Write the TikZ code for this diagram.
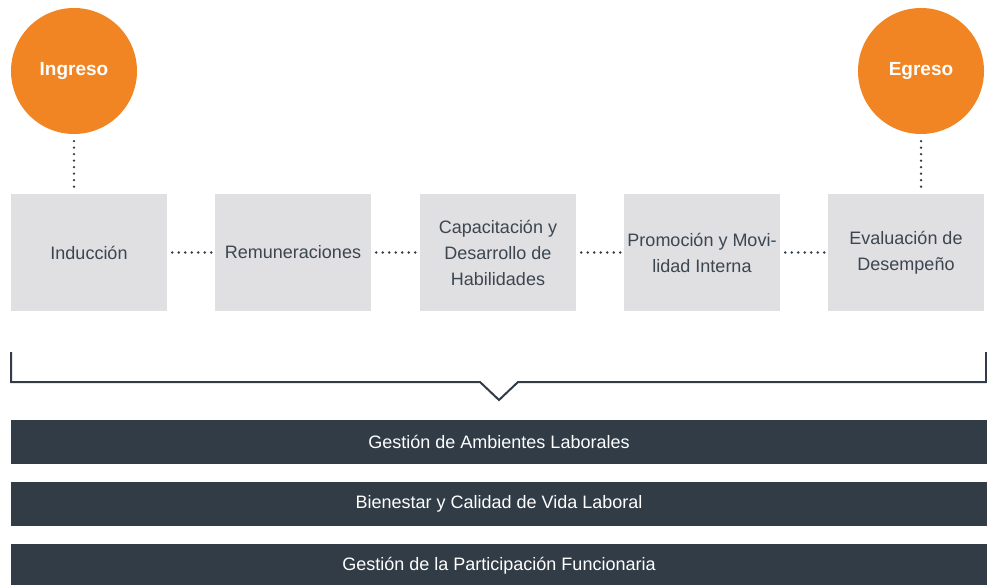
\documentclass[tikz,border=0pt]{standalone}
\usepackage{fontspec}
\setmainfont{Liberation Sans}
\usetikzlibrary{positioning}

\definecolor{naranja}{HTML}{F28523}
\definecolor{grisclaro}{HTML}{E0DFE2}
\definecolor{oscuro}{HTML}{313C46}
\definecolor{texto}{HTML}{3C4650}

\tikzset{
    hito/.style={circle, fill=naranja, minimum size=126pt, inner sep=0pt,
        text=white, font=\fontsize{19}{23}\selectfont\bfseries},
    etapa/.style={rectangle, fill=grisclaro, minimum width=156pt, minimum height=117pt,
        inner sep=0pt, align=center, text=texto, font=\fontsize{18}{26}\selectfont},
    franja/.style={rectangle, fill=oscuro, minimum width=976pt, minimum height=44pt,
        inner sep=0pt, text=white, font=\fontsize{18}{22}\selectfont},
    puntos/.style={draw=oscuro, line width=2.6pt, line cap=round, dash pattern=on 0pt off 6.5pt},
}

\begin{document}
\begin{tikzpicture}[x=1pt, y=-1pt]

    % Page size
    \def\ancho{987}
    \def\alto{585}
    \useasboundingbox (0,0) rectangle (\ancho,\alto);

    % Stages
    \node[etapa] (induccion) at (89,252.5) {Inducción};
    \node[etapa] (remun)     at (293,252.5) {Remuneraciones};
    \node[etapa] (capac)     at (498,252.5) {Capacitación y\\Desarrollo de\\Habilidades};
    \node[etapa] (promo)     at (702,252.5) {Promoción y Movi-\\lidad Interna};
    \node[etapa] (evalua)    at (906,252.5) {Evaluación de\\Desempeño};

    % Entry and exit
    \node[hito] (ingreso) at (74,71)  {Ingreso};
    \node[hito] (egreso)  at (921,71) {Egreso};

    % Dotted links
    \draw[puntos, shorten <=7pt, shorten >=2pt] (ingreso.south) -- (ingreso.south |- induccion.north);
    \draw[puntos, shorten <=7pt, shorten >=2pt] (egreso.south) -- (egreso.south |- evalua.north);
    \foreach \a/\b in {induccion/remun, remun/capac, capac/promo, promo/evalua}{
        \draw[puntos, shorten <=5pt, shorten >=2pt] (\a.east) -- (\b.west);
    }

    % Bracket
    \draw[oscuro, line width=2pt, line join=miter]
        (11,352) -- (11,382) -- (480,382) -- (499,400) -- (518,382) -- (986,382) -- (986,352);

    % Transversal areas
    \node[franja] (ambientes)     at (499,442) {Gestión de Ambientes Laborales};
    \node[franja] (bienestar)     at (499,504) {Bienestar y Calidad de Vida Laboral};
    \node[franja] (participacion) at (499,566) {Gestión de la Participación Funcionaria};

\end{tikzpicture}
\end{document}
